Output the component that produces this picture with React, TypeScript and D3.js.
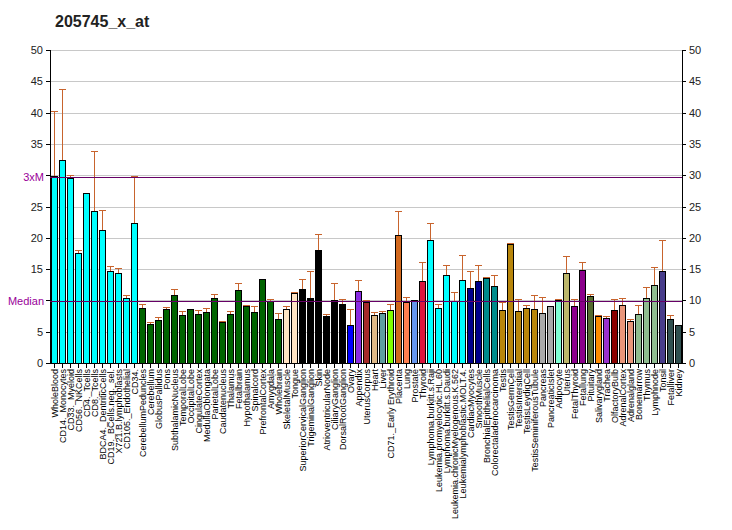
import React from "react";
import * as d3 from "d3";

const categories: string[] = [
  "WholeBlood","CD14._Monocytes","CD33._Myeloid","CD56._NKCells","CD4._Tcells","CD8._Tcells",
  "BDCA4._DentriticCells","CD19._BCells.neg._sel.","X721.B.lymphoblasts","CD105._Endothelial","CD34.",
  "CerebellumPeduncles","Cerebellum","GlobusPallidus","Pons","SubthalamicNucleus","TemporalLobe",
  "OccipitalLobe","CingulateCortex","MedullaOblongata","ParietalLobe","Caudatenucleus","Thalamus",
  "Fetalbrain","Hypothalamus","Spinalcord","PrefrontalCortex","Amygdala","Wholebrain",
  "SkeletalMuscle","Tongue","SuperiorCervicalGanglion","TrigeminalGanglion","Skin",
  "AtrioventricularNode","CiliaryGanglion","DorsalRootGanglion","Ovary","Appendix","UterusCorpus",
  "Heart","Liver","CD71._Early Erythroid","Placenta","Lung","Prostate","Thyroid",
  "Lymphoma.burkitt.s.Raji","Leukemia.promyelocytic.HL.60","Lymphoma.burkitt.s.Daudi",
  "Leukemia.chronicMyelogenous.K.562","Leukemialymphoblastic.MOLT.4.","CardiacMyocytes",
  "SmoothMuscle","BronchialEpithelialCells","Colorectaladenocarcinoma","Testis","TestisGermCell",
  "TestisIntersitial","TestisLeydigCell","TestisSeminiferousTubule","Pancreas","PancreaticIslet",
  "Adipocyte","Uterus","FetalThyroid","Fetallung","Pituitary","Salivarygland","Trachea",
  "OlfactoryBulb","AdrenalCortex","Adrenalgland","Bonemarrow","Thymus","Lymphnode","Tonsil",
  "Fetalliver","Kidney"
];

const values: number[] = [
  29.9,32.4,29.5,17.65,27.2,24.3,21.3,14.7,14.45,10.4,22.4,
  8.8,6.24,6.93,8.7,10.9,7.68,8.64,7.84,8.16,10.4,6.56,7.84,11.68,9.12,8.16,13.44,9.92,7.04,
  8.64,11.2,11.84,10.4,18.08,7.52,10.08,9.44,6.08,11.52,9.76,
  7.68,8.0,8.48,20.48,9.76,10.08,13.12,19.68,8.8,14.08,9.92,13.28,12.0,13.12,13.6,12.32,
  8.48,19.04,8.32,8.8,8.64,8.0,9.12,10.08,14.4,9.12,14.88,10.72,7.52,7.2,8.48,9.28,6.72,
  7.84,10.4,12.48,14.72,7.04,6.08
];

const errorTops: number[] = [
  40.2,43.8,30.0,18.1,27.2,33.9,24.5,15.5,15.2,10.8,29.9,
  9.44,6.56,7.36,8.9,11.84,8.3,8.64,8.5,8.8,11.04,6.7,8.27,12.8,9.28,9.12,13.44,10.24,8.0,
  9.12,11.36,13.44,14.72,20.64,7.84,12.8,10.24,8.64,13.28,10.08,
  8.16,8.32,9.44,24.32,10.56,10.08,16.16,22.4,9.44,15.68,11.36,17.28,14.72,15.68,13.76,14.08,
  9.76,19.2,10.24,9.28,10.88,10.56,9.12,10.24,17.12,10.24,16.16,11.04,7.68,7.52,10.24,10.4,7.04,
  9.28,12.16,15.36,19.68,7.68,6.08
];

const colors: string[] = [
  ...Array(11).fill("#00ffff"),
  ...Array(18).fill("#006400"),
  "#ffe4c4","#ffe4c4",
  ...Array(6).fill("#000000"),
  "#0000ff","#8a2be2","#a52a2a","#deb887","#5f9ea0","#7fff00","#d2691e","#ff7f50","#6495ed","#dc143c",
  ...Array(5).fill("#00ffff"),
  "#00008b","#00008b","#008b8b","#008b8b",
  ...Array(5).fill("#b8860b"),
  "#a9a9a9","#a9a9a9","#7fffd4","#bdb76b","#8b008b","#8b008b","#556b2f","#ff8c00","#9932cc","#8b0000",
  "#e9967a","#e9967a","#8fbc8f","#8fbc8f","#8fbc8f","#483d8b","#2f4f4f","#2f4f4f"
];

const yTicks: number[] = [0,5,10,15,20,25,30,35,40,45,50];
const title = "205745_x_at";
const medianValue = 9.92;
const threeXMValue = 29.76;

export default function App() {
  const W = 732, H = 530;
  const left = 50, right = 682, top = 50, bottom = 363;
  const x = d3.scaleBand<number>().domain(d3.range(categories.length)).range([left, right]).paddingInner(0.25).paddingOuter(0.125);
  const y = d3.scaleLinear().domain([0, 50]).range([bottom, top]);
  const font = "'Liberation Sans', Arial, sans-serif";
  const bw = 6;
  const py = (v: number) => Math.round(y(v)) + 0.5;
  return (
    <svg width={W} height={H} style={{ position: "absolute", left: 0, top: 0, background: "#fff" }}>
      <rect x={0} y={0} width={W} height={H} fill="#fff" />
      <text x={55} y={27} fontFamily={font} fontSize={16} fontWeight="bold" fill="#222">{title}</text>
      <g shapeRendering="crispEdges">
        {yTicks.filter(t => t > 0).map(t => (
          <line key={"g" + t} x1={left} x2={right} y1={py(t)} y2={py(t)} stroke="#c8c8c8" strokeWidth={1} />
        ))}
        <line x1={left + 0.5} x2={left + 0.5} y1={top} y2={bottom + 0.5} stroke="#000" />
        <line x1={right + 0.5} x2={right + 0.5} y1={top} y2={bottom + 0.5} stroke="#000" />
        <line x1={left} x2={right} y1={bottom + 0.5} y2={bottom + 0.5} stroke="#000" />
      </g>
      {yTicks.map(t => (
        <g key={"t" + t}>
          <line x1={left - 4} x2={left} y1={py(t)} y2={py(t)} stroke="#000" shapeRendering="crispEdges" />
          {t !== 30 && t !== 10 && (
            <text x={left - 7} y={y(t) + 4} textAnchor="end" fontFamily={font} fontSize={11} fill="#222">{t}</text>
          )}
          <line x1={right} x2={right + 4} y1={py(t)} y2={py(t)} stroke="#000" shapeRendering="crispEdges" />
          <text x={right + 7} y={y(t) + 4} textAnchor="start" fontFamily={font} fontSize={11} fill="#222">{t}</text>
        </g>
      ))}
      {categories.map((c, i) => {
        const cx = Math.round((x(i) as number) + x.bandwidth() / 2);
        const bx = cx - bw / 2 + 0.5;
        const yt = py(values[i]);
        const ye = py(errorTops[i]);
        return (
          <g key={"b" + i} shapeRendering="crispEdges">
            <line x1={cx + 0.5} x2={cx + 0.5} y1={yt} y2={ye} stroke="#c8642d" strokeWidth={1} />
            <line x1={cx - 3} x2={cx + 4} y1={ye} y2={ye} stroke="#c8642d" strokeWidth={1} />
            <rect x={bx} y={yt} width={bw} height={bottom - yt + 0.5} fill={colors[i]} stroke="#000" strokeWidth={1} />
            <line x1={cx + 0.5} x2={cx + 0.5} y1={bottom} y2={bottom + 5} stroke="#000" />
            <text transform={`translate(${cx + 4},${bottom + 6}) rotate(-90)`} textAnchor="end" fontFamily={font} fontSize={9} fill="#000" shapeRendering="auto">{c}</text>
          </g>
        );
      })}
      <g shapeRendering="crispEdges">
        <line x1={left} x2={right} y1={py(threeXMValue)} y2={py(threeXMValue)} stroke="#660066" strokeWidth={1} />
        <line x1={left} x2={right} y1={py(medianValue)} y2={py(medianValue)} stroke="#660066" strokeWidth={1} />
      </g>
      <text x={left - 6} y={y(threeXMValue) + 4} textAnchor="end" fontFamily={font} fontSize={11} fill="#990099">3xM</text>
      <text x={left - 6} y={y(medianValue) + 4} textAnchor="end" fontFamily={font} fontSize={11} fill="#990099">Median</text>
    </svg>
  );
}
